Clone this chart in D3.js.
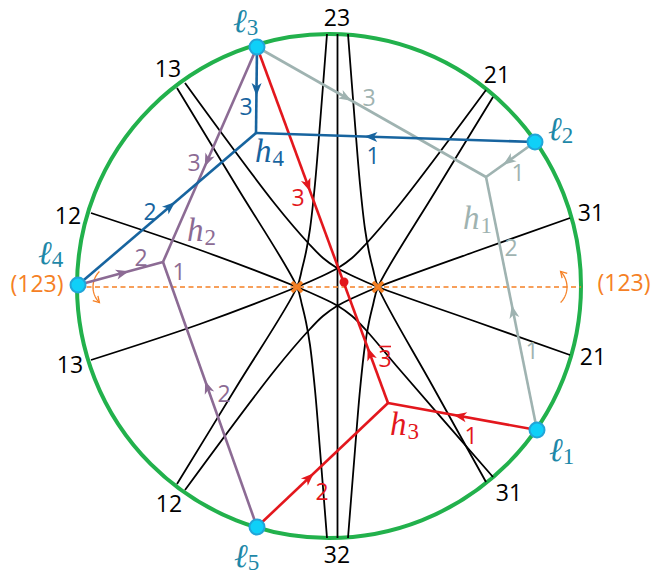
<!DOCTYPE html>
<html>
<head>
<meta charset="utf-8">
<script src="https://cdn.jsdelivr.net/npm/d3@7"></script>
<style>body{margin:0;background:#fff}</style>
</head>
<body>
<div id="chart"></div>
<script>
// Disk coordinates: origin at the circle centre, y up, radius 252
const R = 252;

// Black curves (each a list of points, boundary to boundary)
const line23 = [[8.5, 252], [8.5, -252]];
const curveL1 = [[-238, 73], [-129, 36], [-32, -1], [-9, -11], [9, -20], [23, -30], [36, -43], [71, -84], [164, -191]];
const curveL2 = [[-238, -74], [-129, -38], [-32, -1], [-9, 9], [9, 18], [23, 28], [36, 41], [71, 82], [157, 196]];
const curveL3 = [[-152, 198], [-92, 99], [-32, -1], [-27, -19], [-23, -36], [-19, -59], [-14, -104], [-9, -164], [-2, -252]];
const curveL4 = [[-152, -198], [-92, -100], [-32, -1], [-27, 17], [-23, 34], [-19, 57], [-14, 102], [-9, 162], [-2, 252]];
const curveR1 = [[241, 68], [145, 34], [49, -1], [26, -11], [8, -20], [-6, -30], [-19, -43], [-54, -84], [-144, -204]];
const curveR2 = [[241, -69], [145, -35], [49, -1], [26, 9], [8, 18], [-6, 28], [-19, 41], [-54, 82], [-144, 203]];
const curveR3 = [[164, 189], [106, 94], [49, -1], [44, -19], [40, -36], [36, -59], [31, -104], [26, -164], [19, -252]];
const curveR4 = [[157, -196], [103, -99], [49, -1], [44, 17], [40, 34], [36, 57], [31, 102], [26, 162], [19, 252]];
const blackCurves = [line23, curveL1, curveL2, curveL3, curveL4, curveR1, curveR2, curveR3, curveR4];

// Labels at the ends of the black curves
const curveLabelText = ["23", "32", "21", "31", "21", "31", "12", "13", "12", "13"];
const curveLabelPos = [[8, 269], [8, -268], [168, 212], [262, 74], [264, -70], [180, -206], [-160, -217], [-259, -78], [-261, 71], [-161, 218]];

// Fixed points (orange crosses) and the red point
const fixedPoints = [[-32, -1], [49, -1]];
const redPoint = [15, 4];

// Boundary points l1..l5 and inner vertices h1..h4
const ellPoints = [[208, -144], [206, 144], [-72, 239], [-251, 1], [-72, -241]];
const ellLabelPos = [[220, -175], [219, 146], [-96, 254], [-291, 22], [-95, -281]];
const hPoints = [[157, 109], [-166, 24], [59, -117], [-73, 153]];
const hLabelPos = [[134, 57], [-142, 45], [61, -149], [-74, 124]];
const treeColors = ["#9fb3b1", "#8c6b94", "#e3171d", "#17649f"];
// which boundary points each h is joined to (0-based)
const treeLinks = [[1, 2, 0], [2, 3, 4], [0, 4, 2], [2, 1, 3]];

// arrows: [tree, boundary point, fraction from boundary point, points towards]
const arrows = [
  [0, 1, 0.55, "h"], [0, 2, 0.39, "h"], [0, 0, 0.47, "h"],
  [1, 2, 0.53, "h"], [1, 3, 0.53, "h"], [1, 4, 0.53, "h"],
  [2, 0, 0.52, "h"], [2, 4, 0.40, "h"], [2, 2, 0.39, "h"], [2, 2, 0.86, "l"],
  [3, 2, 0.50, "h"], [3, 1, 0.59, "h"], [3, 3, 0.52, "h"]
];

// edge weights: [tree, text, x, y, overline]
const edgeLabels = [
  [0, "3", 40, 189, false], [0, "1", 189, 114, false], [0, "2", 182, 39, false], [0, "1", 203, -64, false],
  [1, "3", -135, 124, false], [1, "2", -188, 29, false], [1, "1", -150, 15, false], [1, "2", -105, -107, false],
  [2, "1", 142, -149, false], [2, "2", -7, -205, false], [2, "3", -31, 89, false], [2, "3", 56, -72, true],
  [3, "3", -83, 180, false], [3, "1", 44, 131, false], [3, "2", -179, 75, false]
];

// the (123) symmetry axis and its rotation marks
const axisEnds = [[-251, -1], [252, -1]];
const axisLabelPos = [[-292, 3], [295, 4]];
const rotCentres = [[-214, -1], [216, -1]];
const rotAngles = [[135, 225], [-45, 45]];

const width = 651, height = 575;
const x = d3.scaleLinear().domain([-R, R]).range([77, 581]);
const y = d3.scaleLinear().domain([-R, R]).range([538, 34]);
const px = x(R) - x(0);

const orange = "#f58024";
const teal = "#1e88a8";

const svg = d3.select("#chart").append("svg")
    .attr("width", width)
    .attr("height", height);

// Boundary circle
svg.append("circle")
    .attr("cx", x(0))
    .attr("cy", y(0))
    .attr("r", px)
    .attr("fill", "none")
    .attr("stroke", "#22b14c")
    .attr("stroke-width", 4);

// Black curves
const curveGen = d3.line()
    .x(d => x(d[0]))
    .y(d => y(d[1]))
    .curve(d3.curveCatmullRom.alpha(0.5));

svg.selectAll(".bc")
    .data(blackCurves)
    .join("path")
    .attr("d", curveGen)
    .attr("fill", "none")
    .attr("stroke", "#000")
    .attr("stroke-width", 1.8);

svg.selectAll(".cl")
    .data(curveLabelText)
    .join("text")
    .attr("x", (d, i) => x(curveLabelPos[i][0]))
    .attr("y", (d, i) => y(curveLabelPos[i][1]))
    .attr("text-anchor", "middle")
    .attr("dominant-baseline", "central")
    .style("font-family", "Open Sans")
    .style("font-size", "23px")
    .text(d => d);

// Orange dashed axis
svg.append("line")
    .attr("x1", x(axisEnds[0][0])).attr("y1", y(axisEnds[0][1]))
    .attr("x2", x(axisEnds[1][0])).attr("y2", y(axisEnds[1][1]))
    .attr("stroke", orange)
    .attr("stroke-width", 1.4)
    .attr("stroke-dasharray", "5,3.5");

axisLabelPos.forEach(p => {
    svg.append("text")
        .attr("x", x(p[0]))
        .attr("y", y(p[1]))
        .attr("text-anchor", "middle")
        .attr("dominant-baseline", "central")
        .style("font-family", "Open Sans")
        .style("font-size", "23px")
        .attr("fill", orange)
        .text("(123)");
});

// small rotation arcs with open arrow heads
rotCentres.forEach((c, i) => {
    const r = 22;
    const [a0, a1] = rotAngles[i];
    const pts = d3.range(a0, a1 + 0.1, 2).map(a => [
        x(c[0]) + r * Math.cos(a * Math.PI / 180),
        y(c[1]) - r * Math.sin(a * Math.PI / 180)
    ]);
    svg.append("path")
        .attr("d", d3.line()(pts))
        .attr("fill", "none")
        .attr("stroke", orange)
        .attr("stroke-width", 1.3);
    const end = pts[pts.length - 1];
    const prev = pts[pts.length - 3];
    const ang = Math.atan2(end[1] - prev[1], end[0] - prev[0]) * 180 / Math.PI;
    svg.append("path")
        .attr("d", "M-6,-3.5 L0,0 L-6,3.5")
        .attr("transform", `translate(${end[0]},${end[1]}) rotate(${ang})`)
        .attr("fill", "none")
        .attr("stroke", orange)
        .attr("stroke-width", 1.3);
});

// Trees
treeLinks.forEach((links, k) => {
    links.forEach(i => {
        svg.append("line")
            .attr("x1", x(ellPoints[i][0])).attr("y1", y(ellPoints[i][1]))
            .attr("x2", x(hPoints[k][0])).attr("y2", y(hPoints[k][1]))
            .attr("stroke", treeColors[k])
            .attr("stroke-width", 2.6);
    });
});

arrows.forEach(([k, i, t, dir]) => {
    const P = [x(ellPoints[i][0]), y(ellPoints[i][1])];
    const H = [x(hPoints[k][0]), y(hPoints[k][1])];
    const pos = [P[0] + t * (H[0] - P[0]), P[1] + t * (H[1] - P[1])];
    const a = dir === "h"
        ? Math.atan2(H[1] - P[1], H[0] - P[0])
        : Math.atan2(P[1] - H[1], P[0] - H[0]);
    svg.append("path")
        .attr("d", "M6,0 L-7,-5 L-3.5,0 L-7,5 Z")
        .attr("transform", `translate(${pos[0]},${pos[1]}) rotate(${a * 180 / Math.PI})`)
        .attr("fill", treeColors[k]);
});

edgeLabels.forEach(([k, txt, lx, ly, bar]) => {
    svg.append("text")
        .attr("x", x(lx))
        .attr("y", y(ly))
        .attr("text-anchor", "middle")
        .attr("dominant-baseline", "central")
        .style("font-family", "Open Sans")
        .style("font-size", "23px")
        .attr("fill", treeColors[k])
        .text(txt);
    if (bar) {
        svg.append("line")
            .attr("x1", x(lx) - 6).attr("x2", x(lx) + 6)
            .attr("y1", y(ly) - 11.5).attr("y2", y(ly) - 11.5)
            .attr("stroke", treeColors[k])
            .attr("stroke-width", 1.6);
    }
});

// h labels
hLabelPos.forEach((p, k) => {
    const t = svg.append("text")
        .attr("x", x(p[0]))
        .attr("y", y(p[1]))
        .attr("fill", treeColors[k])
        .style("font-family", "Liberation Serif");
    t.append("tspan").style("font-style", "italic").style("font-size", "33px").text("h");
    t.append("tspan").attr("dy", 4).attr("dx", 1).style("font-size", "23px").text(k + 1);
});

// Fixed points
fixedPoints.forEach(p => {
    svg.append("path")
        .attr("d", "M-5,-5 L5,5 M-5,5 L5,-5")
        .attr("transform", `translate(${x(p[0])},${y(p[1])})`)
        .attr("stroke", orange)
        .attr("stroke-width", 3.5);
});

svg.append("circle")
    .attr("cx", x(redPoint[0]))
    .attr("cy", y(redPoint[1]))
    .attr("r", 4.5)
    .attr("fill", "#e3171d");

// Boundary points and their labels
svg.selectAll(".ell")
    .data(ellPoints)
    .join("circle")
    .attr("cx", d => x(d[0]))
    .attr("cy", d => y(d[1]))
    .attr("r", 7.5)
    .attr("fill", "#0fd0f8")
    .attr("stroke", "#22a5d8")
    .attr("stroke-width", 2);

ellLabelPos.forEach((p, i) => {
    const t = svg.append("text")
        .attr("x", x(p[0]))
        .attr("y", y(p[1]))
        .attr("fill", teal)
        .style("font-family", "DejaVu Serif");
    t.append("tspan").style("font-style", "italic").style("font-size", "33px").text("ℓ");
    t.append("tspan").attr("dy", 3).attr("dx", 0).style("font-size", "23px").style("font-family", "Liberation Serif").text(i + 1);
});
</script>
</body>
</html>
